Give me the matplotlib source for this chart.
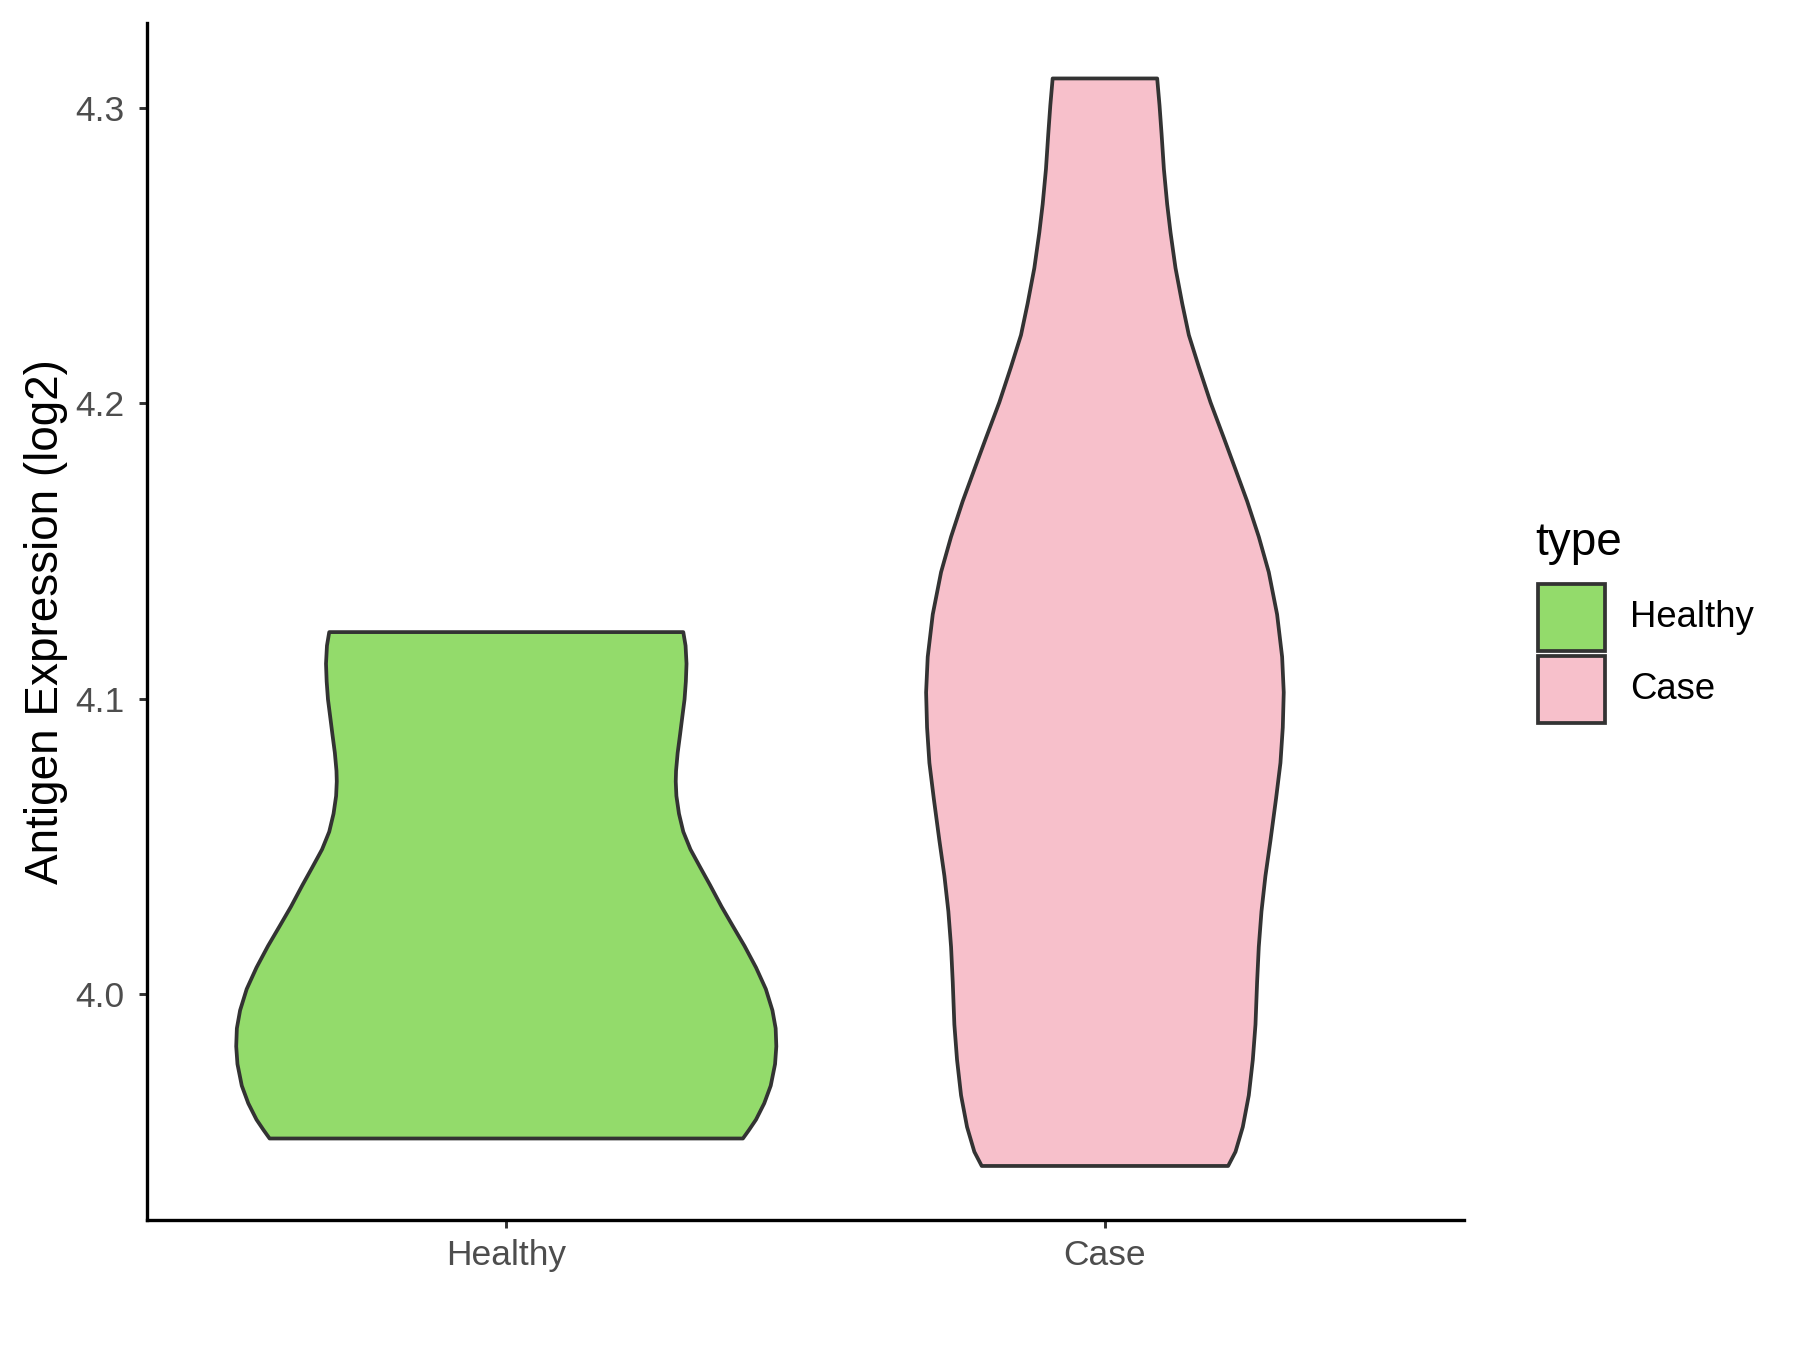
import numpy as np
import matplotlib.pyplot as plt
from matplotlib.patches import Polygon, Rectangle

plt.rcParams['font.family'] = ['Liberation Sans', 'DejaVu Sans']

groups = ['Healthy', 'Case']
colors = ['#93DB6B', '#F7C0CB']

# violin outlines: expression value and half width (x units)
healthy_y = [4.1225, 4.1179, 4.1118, 4.1058, 4.0997, 4.0937, 4.0876, 4.0816,
             4.0755, 4.0719, 4.0670, 4.0610, 4.0549, 4.0489, 4.0428, 4.0368,
             4.0295, 4.0228, 4.0162, 4.0089, 4.0016, 3.9944, 3.9883, 3.9822,
             3.9762, 3.9689, 3.9629, 3.9574, 3.9538, 3.9510]
healthy_w = [0.2957, 0.2995, 0.3011, 0.3000, 0.2978, 0.2940, 0.2902, 0.2863,
             0.2836, 0.2831, 0.2842, 0.2885, 0.2957, 0.3077, 0.3241, 0.3405,
             0.3597, 0.3789, 0.3980, 0.4172, 0.4336, 0.4446, 0.4500, 0.4511,
             0.4490, 0.4418, 0.4309, 0.4172, 0.4052, 0.3953]

case_y = [4.3100, 4.3009, 4.2913, 4.2793, 4.2674, 4.2578, 4.2458, 4.2338,
          4.2231, 4.2123, 4.2003, 4.1883, 4.1776, 4.1668, 4.1548, 4.1428,
          4.1285, 4.1141, 4.1021, 4.0902, 4.0782, 4.0662, 4.0519, 4.0399,
          4.0279, 4.0159, 4.0040, 3.9896, 3.9776, 3.9656, 3.9549, 3.9465,
          3.9417]
case_w = [0.0873, 0.0912, 0.0946, 0.0985, 0.1040, 0.1096, 0.1179, 0.1291,
          0.1402, 0.1569, 0.1764, 0.1986, 0.2181, 0.2376, 0.2570, 0.2737,
          0.2876, 0.2960, 0.2987, 0.2971, 0.2932, 0.2859, 0.2765, 0.2681,
          0.2615, 0.2570, 0.2542, 0.2515, 0.2470, 0.2403, 0.2303, 0.2181,
          0.2058]

profiles = [(healthy_y, healthy_w), (case_y, case_w)]

fig = plt.figure(figsize=(12, 9), dpi=150)
ax = fig.add_axes([0.0817, 0.0963, 0.7317, 0.8867])

for i, (ys, ws) in enumerate(profiles):
    pos = i + 1
    ys = np.array(ys)
    ws = np.array(ws)
    right = np.column_stack([pos + ws, ys])
    left = np.column_stack([pos - ws[::-1], ys[::-1]])
    pts = np.vstack([right, left])
    ax.add_patch(Polygon(pts, closed=True, facecolor=colors[i],
                         edgecolor='#333333', linewidth=1.8, joinstyle='round'))

ax.set_xlim(0.4, 2.6)
ax.set_ylim(3.9234, 4.3288)
ax.set_xticks([1, 2])
ax.set_xticklabels(groups)
ax.set_yticks([4.0, 4.1, 4.2, 4.3])
ax.set_yticklabels(['4.0', '4.1', '4.2', '4.3'])

for s in ['top', 'right']:
    ax.spines[s].set_visible(False)
for s in ['left', 'bottom']:
    ax.spines[s].set_linewidth(1.6)
    ax.spines[s].set_color('black')

ax.tick_params(axis='both', length=4, width=1.4, color='#333333',
               labelcolor='#4D4D4D', labelsize=17)
ax.tick_params(axis='x', pad=5)
ax.tick_params(axis='y', pad=7)
ax.set_ylabel('Antigen Expression (log2)', fontsize=22, labelpad=3.5)

# legend
fig.text(0.853, 0.598, 'type', fontsize=22, va='center', ha='left')
for j, (lab, col) in enumerate(zip(groups, colors)):
    y0 = 0.5178 - j * 0.0534
    fig.patches.append(Rectangle((0.8544, y0), 0.0373, 0.0496,
                                 transform=fig.transFigure, facecolor=col,
                                 edgecolor='#333333', linewidth=1.8))
    fig.text(0.9056, y0 + 0.0248, lab, fontsize=17.5, va='center', ha='left')

fig.savefig('out.png', dpi=150)
